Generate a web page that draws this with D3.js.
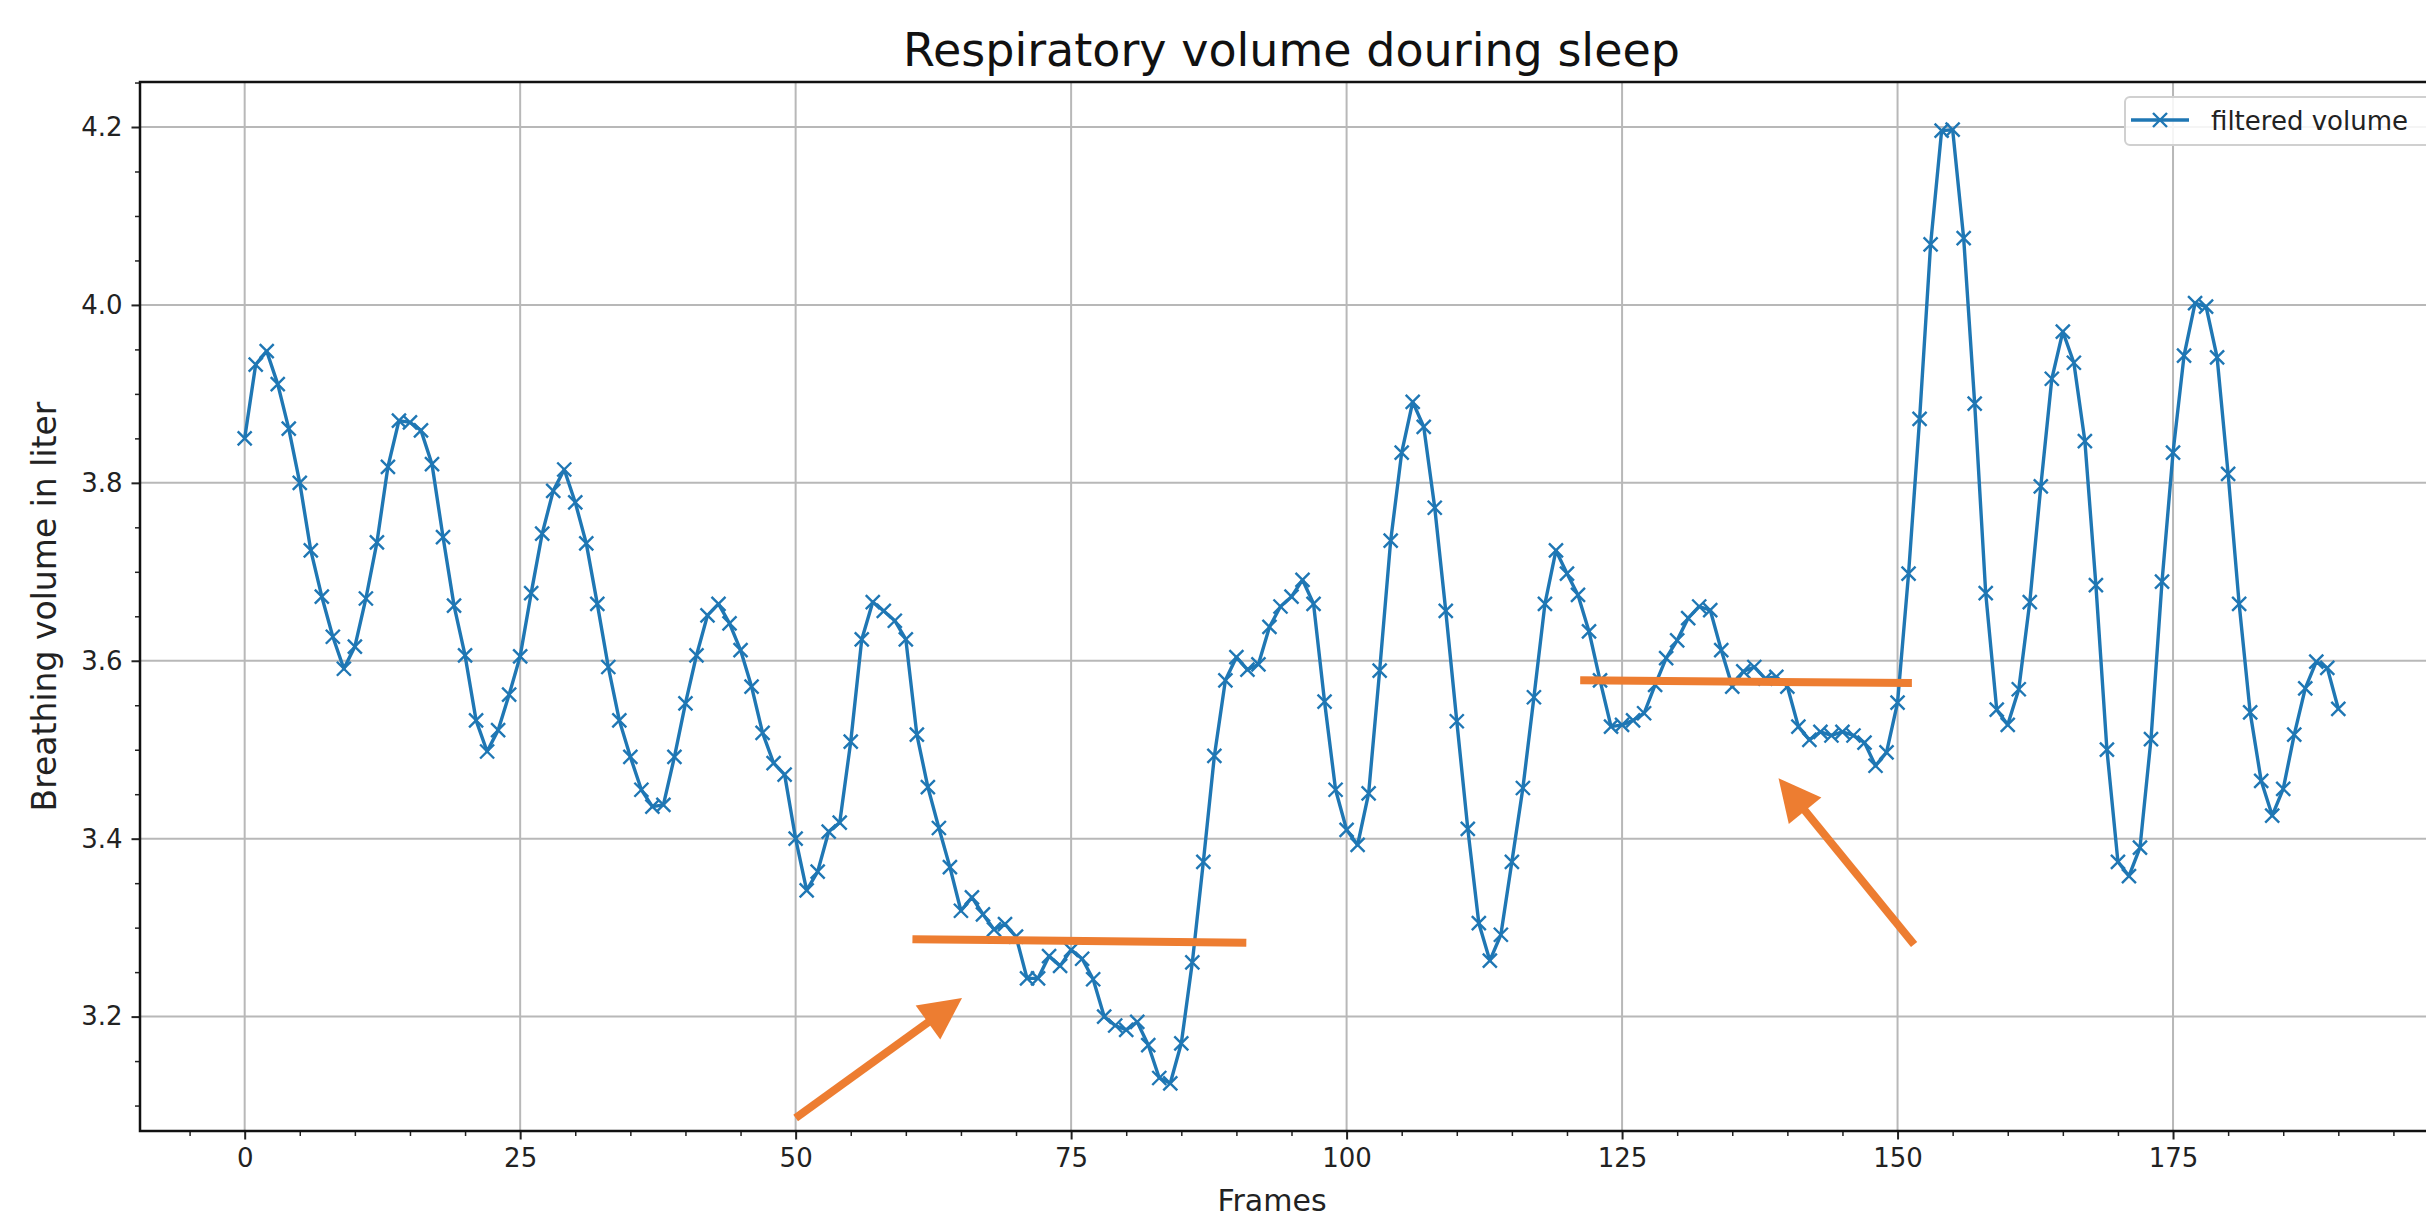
<!DOCTYPE html>
<html>
<head>
<meta charset="utf-8">
<script src="https://cdn.jsdelivr.net/npm/d3@7"></script>
<style>
  html, body { margin: 0; padding: 0; background: #ffffff; }
  svg { display: block; font-family: "DejaVu Sans", "Liberation Sans", sans-serif; }
</style>
</head>
<body>
<svg id="chart" width="2426" height="1220"></svg>
<script>
// ---------------- data ----------------
const volume = [
  3.850, 3.933, 3.948, 3.911, 3.861, 3.800, 3.724, 3.672, 3.627, 3.591,
  3.616, 3.670, 3.733, 3.818, 3.870, 3.868, 3.859, 3.821, 3.739, 3.662,
  3.606, 3.533, 3.498, 3.522, 3.562, 3.605, 3.676, 3.743, 3.791, 3.815,
  3.778, 3.732, 3.664, 3.593, 3.533, 3.492, 3.455, 3.436, 3.438, 3.492,
  3.552, 3.606, 3.651, 3.664, 3.642, 3.612, 3.571, 3.519, 3.485, 3.472,
  3.400, 3.342, 3.363, 3.408, 3.418, 3.509, 3.624, 3.666, 3.656, 3.645,
  3.624, 3.517, 3.458, 3.412, 3.368, 3.319, 3.334, 3.315, 3.298, 3.304,
  3.290, 3.243, 3.243, 3.268, 3.257, 3.275, 3.265, 3.242, 3.200, 3.190,
  3.185, 3.194, 3.168, 3.131, 3.125, 3.170, 3.261, 3.374, 3.493, 3.578,
  3.604, 3.590, 3.596, 3.638, 3.661, 3.672, 3.691, 3.664, 3.554, 3.455,
  3.410, 3.393, 3.451, 3.589, 3.735, 3.834, 3.891, 3.863, 3.772, 3.656,
  3.532, 3.411, 3.305, 3.263, 3.292, 3.374, 3.457, 3.559, 3.664, 3.724,
  3.698, 3.674, 3.633, 3.578, 3.526, 3.528, 3.533, 3.541, 3.573, 3.603,
  3.623, 3.648, 3.661, 3.657, 3.612, 3.571, 3.588, 3.593, 3.580, 3.582,
  3.571, 3.526, 3.511, 3.520, 3.516, 3.520, 3.516, 3.508, 3.482, 3.497,
  3.553, 3.698, 3.872, 4.068, 4.196, 4.197, 4.075, 3.889, 3.676, 3.545,
  3.528, 3.568, 3.666, 3.796, 3.917, 3.970, 3.935, 3.847, 3.685, 3.500,
  3.374, 3.358, 3.390, 3.512, 3.689, 3.834, 3.943, 4.002, 3.998, 3.941,
  3.810, 3.664, 3.542, 3.465, 3.426, 3.456, 3.517, 3.569, 3.599, 3.592,
  3.546
];
const xTickValues = [0, 25, 50, 75, 100, 125, 150, 175];
const yTickValues = [3.2, 3.4, 3.6, 3.8, 4.0, 4.2];
const titleText = "Respiratory volume douring sleep";
const xLabelText = "Frames";
const yLabelText = "Breathing volume in liter";
const legendLabels = ["filtered volume"];
// hand-drawn orange annotations, in data units: [frame0, value0, frame1, value1]
const highlightSegments = [
  [60.6, 3.287, 90.9, 3.283],
  [121.2, 3.578, 151.3, 3.575]
];
const arrowSegments = [   // tail -> tip
  [50.0, 3.086, 65.1, 3.221],
  [151.5, 3.281, 139.2, 3.468]
];

// ---------------- layout ----------------
const W = 2426, H = 1220;
const plot = { left: 140, top: 82, right: 2443, bottom: 1131 };
const blue = "#1f77b4", orange = "#ed7d31", gridColor = "#b8b8b8";

const svg = d3.select("#chart");
svg.append("rect").attr("width", W).attr("height", H).attr("fill", "#ffffff");

const n = volume.length;
const xPad = (n - 1) * 0.05;
const x = d3.scaleLinear().domain([-xPad, n - 1 + xPad]).range([plot.left, plot.right]);
const [vMin, vMax] = d3.extent(volume);
const yPad = (vMax - vMin) * 0.05;
const y = d3.scaleLinear().domain([vMin - yPad, vMax + yPad]).range([plot.bottom, plot.top]);

const xMinor = d3.range(-5, 200, 5).filter(v => v % 25 !== 0);
const yMinor = d3.range(3.1, 4.26, 0.05).filter(v => Math.abs(v * 5 - Math.round(v * 5)) > 1e-6);

// ---------------- grid ----------------
const grid = svg.append("g");
grid.selectAll("line.gx").data(xTickValues).join("line")
  .attr("x1", d => x(d)).attr("x2", d => x(d))
  .attr("y1", plot.top).attr("y2", plot.bottom)
  .attr("stroke", gridColor).attr("stroke-width", 2);
grid.selectAll("line.gy").data(yTickValues).join("line")
  .attr("y1", d => y(d)).attr("y2", d => y(d))
  .attr("x1", plot.left).attr("x2", plot.right)
  .attr("stroke", gridColor).attr("stroke-width", 2);

// ---------------- axes ----------------
const tickFont = 26;
const xAxis = svg.append("g").attr("transform", `translate(0,${plot.bottom})`)
  .call(d3.axisBottom(x).tickValues(xTickValues).tickSize(8.5).tickPadding(9).tickFormat(d3.format("d")));
const xAxisMinor = svg.append("g").attr("transform", `translate(0,${plot.bottom})`)
  .call(d3.axisBottom(x).tickValues(xMinor).tickSize(5).tickFormat(""));
const yAxis = svg.append("g").attr("transform", `translate(${plot.left},0)`)
  .call(d3.axisLeft(y).tickValues(yTickValues).tickSize(8.5).tickPadding(9).tickFormat(d3.format(".1f")));
const yAxisMinor = svg.append("g").attr("transform", `translate(${plot.left},0)`)
  .call(d3.axisLeft(y).tickValues(yMinor).tickSize(5).tickFormat(""));

[xAxis, xAxisMinor, yAxis, yAxisMinor].forEach(g => {
  g.select(".domain").remove();
  g.attr("font-family", null).attr("font-size", null);
  g.selectAll("text").attr("fill", "#222").style("font-size", tickFont + "px")
    .style("font-family", "'DejaVu Sans', sans-serif");
});
[xAxis, yAxis].forEach(g => g.selectAll("line").attr("stroke", "#222").attr("stroke-width", 2));
[xAxisMinor, yAxisMinor].forEach(g => g.selectAll("line").attr("stroke", "#222").attr("stroke-width", 1.5));

// ---------------- series ----------------
const line = d3.line().x((d, i) => x(i)).y(d => y(d));
svg.append("path").datum(volume)
  .attr("d", line).attr("fill", "none")
  .attr("stroke", blue).attr("stroke-width", 3.4).attr("stroke-linejoin", "round");

const mk = 7;
const markerPath = `M${-mk},${-mk}L${mk},${mk}M${-mk},${mk}L${mk},${-mk}`;
svg.append("g").selectAll("path").data(volume).join("path")
  .attr("transform", (d, i) => `translate(${x(i)},${y(d)})`)
  .attr("d", markerPath).attr("stroke", blue).attr("stroke-width", 2.4).attr("fill", "none");

// ---------------- spines ----------------
svg.append("rect")
  .attr("x", plot.left).attr("y", plot.top)
  .attr("width", plot.right - plot.left).attr("height", plot.bottom - plot.top)
  .attr("fill", "none").attr("stroke", "#111").attr("stroke-width", 2.5);

// ---------------- texts ----------------
svg.append("text").text(titleText)
  .attr("x", (plot.left + plot.right) / 2).attr("y", 66)
  .attr("text-anchor", "middle").attr("font-size", 46).attr("fill", "#111");

svg.append("text").text(xLabelText)
  .attr("x", 1272).attr("y", 1211)
  .attr("text-anchor", "middle")
  .attr("font-size", 30).attr("fill", "#222");

svg.append("text").text(yLabelText)
  .attr("transform", `translate(44,${(plot.top + plot.bottom) / 2}) rotate(-90)`)
  .attr("text-anchor", "middle").attr("dominant-baseline", "central")
  .attr("font-size", 33).attr("fill", "#222");

// ---------------- legend ----------------
const lg = svg.append("g");
lg.append("rect").attr("x", 2125).attr("y", 97).attr("width", 312).attr("height", 48)
  .attr("rx", 5).attr("fill", "#ffffff").attr("fill-opacity", 0.85)
  .attr("stroke", "#d0d0d0").attr("stroke-width", 2);
lg.append("line").attr("x1", 2131).attr("x2", 2189).attr("y1", 120).attr("y2", 120)
  .attr("stroke", blue).attr("stroke-width", 3.4);
lg.append("path").attr("transform", "translate(2160,120)").attr("d", markerPath)
  .attr("stroke", blue).attr("stroke-width", 2.4).attr("fill", "none");
lg.selectAll("text").data(legendLabels).join("text").text(d => d)
  .attr("x", 2211).attr("y", 130).attr("font-size", 26).attr("fill", "#222");

// ---------------- orange annotations ----------------
const ann = svg.append("g");
ann.selectAll("line.hl").data(highlightSegments).join("line")
  .attr("x1", d => x(d[0])).attr("y1", d => y(d[1]))
  .attr("x2", d => x(d[2])).attr("y2", d => y(d[3]))
  .attr("stroke", orange).attr("stroke-width", 8).attr("stroke-linecap", "butt");

const headLen = 42, headHalf = 21;
arrowSegments.forEach(a => {
  const x0 = x(a[0]), y0 = y(a[1]), x1 = x(a[2]), y1 = y(a[3]);
  const len = Math.hypot(x1 - x0, y1 - y0);
  const ux = (x1 - x0) / len, uy = (y1 - y0) / len;
  const bx = x1 - ux * headLen, by = y1 - uy * headLen;
  ann.append("line").attr("x1", x0).attr("y1", y0).attr("x2", bx + ux * 2).attr("y2", by + uy * 2)
    .attr("stroke", orange).attr("stroke-width", 8);
  ann.append("path")
    .attr("d", `M${x1},${y1}L${bx - uy * headHalf},${by + ux * headHalf}L${bx + uy * headHalf},${by - ux * headHalf}Z`)
    .attr("fill", orange);
});
</script>
</body>
</html>
